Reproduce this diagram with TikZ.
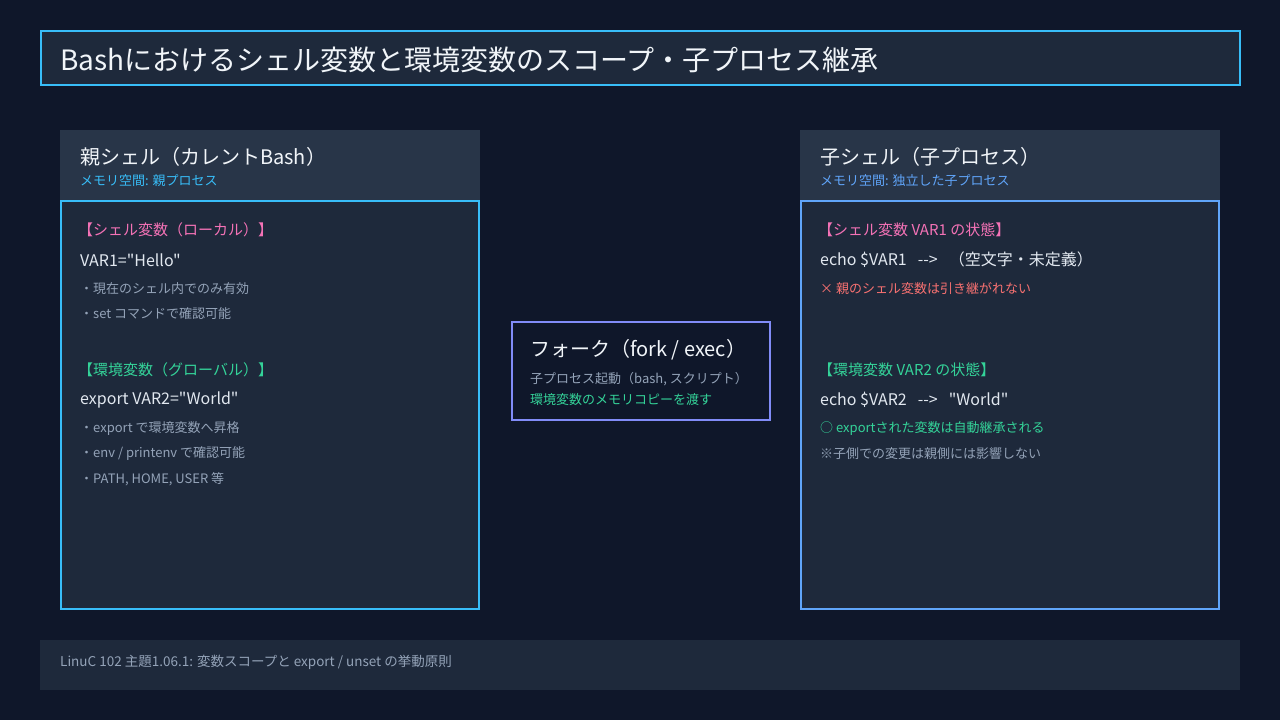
\documentclass[tikz,border=0pt]{standalone}
\usepackage{fontspec}
\setmainfont{Noto Sans CJK JP}[Ligatures=TeXOff]
\definecolor{bgc}{HTML}{0F172A}
\definecolor{panel}{HTML}{1E293B}
\definecolor{headc}{HTML}{283548}
\definecolor{skyb}{HTML}{38BDF8}
\definecolor{blueb}{HTML}{60A5FA}
\definecolor{indb}{HTML}{818CF8}
\definecolor{txtw}{HTML}{F1F5F9}
\definecolor{txtl}{HTML}{E2E8F0}
\definecolor{grayt}{HTML}{94A3B8}
\definecolor{pinkt}{HTML}{F472B6}
\definecolor{greent}{HTML}{34D399}
\definecolor{redt}{HTML}{F87171}
\tikzset{
  lbl/.style={anchor=west,inner sep=0pt},
  ttl/.style={lbl,text=txtw,font=\fontsize{20}{24}\selectfont},
  sub/.style={lbl,font=\fontsize{13}{16}\selectfont},
  sect/.style={lbl,font=\fontsize{15}{18}\selectfont},
  code/.style={lbl,text=txtl,font=\fontsize{16}{19}\selectfont},
  note/.style={lbl,text=grayt,font=\fontsize{13}{16}\selectfont},
}
\begin{document}
\begin{tikzpicture}[x=1pt,y=-1pt]
\fill[bgc] (0,0) rectangle (1280,720);
\useasboundingbox (0,0) rectangle (1280,720);
% title
\node[draw=skyb,line width=2pt,fill=panel,minimum width=1199pt,minimum height=54pt,inner sep=0pt] (titlebox) at (640,58) {};
\node[lbl,text=txtw,font=\fontsize{28}{32}\selectfont] (title) at (60,60) {Bashにおけるシェル変数と環境変数のスコープ・子プロセス継承};
% left panel
\fill[headc] (60,130) rectangle (480,201);
\draw[skyb,line width=2pt,fill=panel] (61,201) rectangle (479,609);
\node[ttl] (lt) at (80,157) {親シェル（カレントBash）};
\node[sub,text=skyb] (ls) at (80,181) {メモリ空間: 親プロセス};
\node[sect,text=pinkt] (l1) at (78,230) {【シェル変数（ローカル）】};
\node[code] (l2) at (80,260) {VAR1="Hello"};
\node[note] (l3) at (80,289) {・現在のシェル内でのみ有効};
\node[note] (l4) at (80,314) {・set コマンドで確認可能};
\node[sect,text=greent] (l5) at (78,370) {【環境変数（グローバル）】};
\node[code] (l6) at (80,400) {export VAR2="World"};
\node[note] (l7) at (80,429) {・export で環境変数へ昇格};
\node[note] (l8) at (80,454) {・env / printenv で確認可能};
\node[note] (l9) at (80,479) {・PATH, HOME, USER 等};
% middle
\node[draw=indb,line width=2pt,fill=bgc,minimum width=258pt,minimum height=98pt,inner sep=0pt] (fork) at (640.5,370.5) {};
\node[ttl] (mt) at (530,350) {フォーク（fork / exec）};
\node[sub,text=grayt] (m1) at (530,379) {子プロセス起動（bash, スクリプト）};
\node[sub,text=greent] (m2) at (530,400) {環境変数のメモリコピーを渡す};
% right panel
\fill[headc] (800,130) rectangle (1220,201);
\draw[blueb,line width=2pt,fill=panel] (801,201) rectangle (1219,609);
\node[ttl] (rt) at (820,157) {子シェル（子プロセス）};
\node[sub,text=blueb] (rs) at (820,181) {メモリ空間: 独立した子プロセス};
\node[sect,text=pinkt] (r1) at (818,230) {【シェル変数 VAR1 の状態】};
\node[code] (r2) at (820,260) {echo \$VAR1\hspace{11pt}-->\hspace{11pt}（空文字・未定義）};
\node[sub,text=redt] (r3) at (820,289) {× 親のシェル変数は引き継がれない};
\node[sect,text=greent] (r4) at (818,370) {【環境変数 VAR2 の状態】};
\node[code] (r5) at (820,400) {echo \$VAR2\hspace{11pt}-->\hspace{11pt}"World"};
\node[sub,text=greent] (r6) at (820,429) {○ exportされた変数は自動継承される};
\node[note] (r7) at (820,454) {※子側での変更は親側には影響しない};
% footer
\fill[panel] (40,640) rectangle (1240,690);
\node[lbl,text=grayt,font=\fontsize{13.5}{16}\selectfont] (foot) at (60,662) {LinuC 102 主題1.06.1: 変数スコープと export / unset の挙動原則};
\end{tikzpicture}
\end{document}
